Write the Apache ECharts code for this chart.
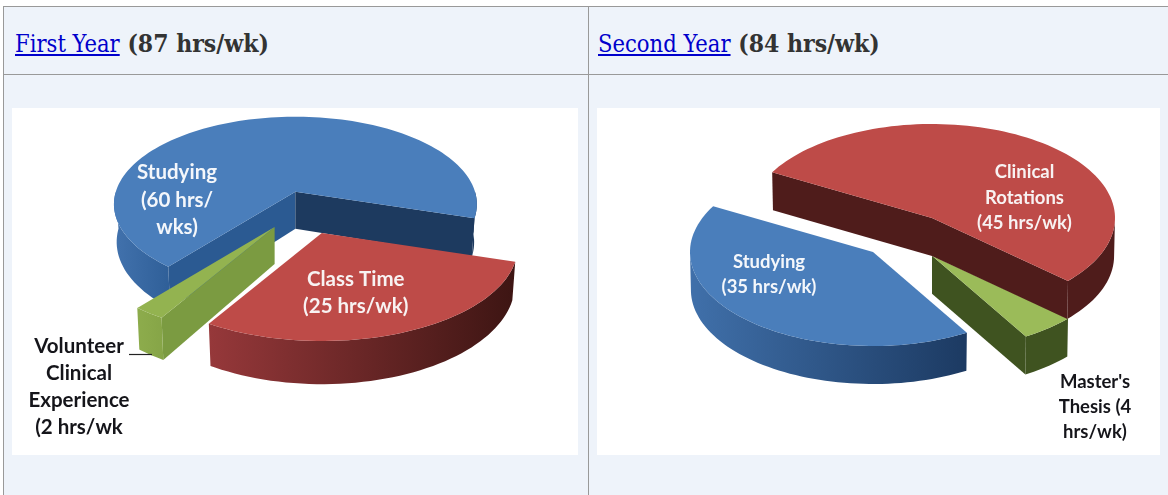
<!DOCTYPE html>
<html>
<head>
<meta charset="utf-8">
<style>
  html, body { margin: 0; padding: 0; background: #fff; }
  body { position: relative; width: 1168px; height: 495px; overflow: hidden; }
  .cell { position: absolute; background: #eef3fa; border-left: 1px solid #999; border-top: 1px solid #999; box-sizing: border-box; }
  .head { font: bold 24.5px "DejaVu Serif", serif; font-stretch: condensed; color: #333; padding: 23px 0 0 11px; line-height: 28px; white-space: nowrap; }
  .head a { color: #0000cc; font-size: 23.5px; font-weight: normal; text-decoration: underline; }
  .chart { position: absolute; top: 108px; height: 347px; background: #fff; }
</style>
</head>
<body>
<div class="cell head" style="left:3px;top:6px;width:585px;height:69px"><a href="#">First Year</a> (87 hrs/wk)</div>
<div class="cell head" style="left:588px;top:6px;width:580px;height:69px;padding-left:9px"><a href="#">Second Year</a> (84 hrs/wk)</div>
<div class="cell" style="left:3px;top:74px;width:585px;height:421px"></div>
<div class="cell" style="left:588px;top:74px;width:580px;height:421px"></div>
<div id="first-year" class="chart" style="left:12px;width:566px"></div>
<div id="second-year" class="chart" style="left:597px;width:563px"></div>

<script src="https://cdn.jsdelivr.net/npm/echarts@6/dist/echarts.min.js"></script>
<script>
// hours per week, in the order the slices go round the pie
const firstYearNames = ['Studying', 'Class Time', 'Volunteer Clinical Experience'];
const firstYearHours = [60, 25, 2];
const secondYearNames = ["Master's Thesis", 'Studying', 'Clinical Rotations'];
const secondYearHours = [4, 35, 45];

const firstYearLabels = ['Studying\n(60 hrs/\nwks)', 'Class Time\n(25 hrs/wk)', 'Volunteer\nClinical\nExperience\n(2 hrs/wk'];
const secondYearLabels = ['Master\'s\nThesis (4\nhrs/wk)', 'Studying\n(35 hrs/wk)', 'Clinical\nRotations\n(45 hrs/wk)'];

const labelFont = 'Lato, "Open Sans", sans-serif';

// how each fake 3d pie sits in its box
const firstPie = {
  startAngle: 129, a: 179.6, b: 85.7, k: 0.143, depth: 37, shrink: 0.985,
  slices: [
    { x: 283.4, y: 83.7, scale: 1, top: '#4a7ebb', startWall: '#2b5a92', endWall: '#1d3a5f', outer: ['#4272ad', '#2f5f98'] },
    { x: 309.8, y: 125, scale: 1.08, top: '#be4b48', startWall: '#6e2826', endWall: '#6e2826', outer: ['#96383a', '#3d1513'] },
    { x: 262.6, y: 119, scale: 1.08, top: '#93b350', startWall: '#7b9b41', endWall: '#7b9b41', outer: ['#8dac4c', '#86a547'] }
  ],
  labels: [
    { x: 165, y: 92, size: 20.5, lineHeight: 27.5, color: '#f4f7fb' },
    { x: 343.7, y: 185, size: 20.5, lineHeight: 27.5, color: '#f8f2f2' },
    { x: 67, y: 279, size: 20.5, lineHeight: 27, color: '#15151a' }
  ]
};
const secondPie = {
  startAngle: 42, a: 183, b: 94, k: 0, depth: 38, shrink: 0.995,
  slices: [
    { x: 335, y: 147.7, scale: 1, top: '#9bbb59', startWall: '#3f5320', endWall: '#3f5320', outer: ['#3f5320', '#3f5320'] },
    { x: 276, y: 144, scale: 1, top: '#4a7ebb', startWall: '#1c3a62', endWall: '#1c3a62', outer: ['#4070aa', '#1c3a62'] },
    { x: 335, y: 110, scale: 1, top: '#be4b48', startWall: '#4f1c1b', endWall: '#4f1c1b', outer: ['#4f1c1b', '#4f1c1b'] }
  ],
  labels: [
    { x: 498, y: 299, size: 18.5, lineHeight: 25, color: '#15151a' },
    { x: 172, y: 167, size: 18.5, lineHeight: 25, color: '#f4f7fb' },
    { x: 427.5, y: 90, size: 18.5, lineHeight: 25.5, color: '#f8f2f2' }
  ]
};

function drawPie(domId, names, hours, labels, pie, extra) {
  const chart = echarts.init(document.getElementById(domId));
  const total = hours.reduce((sum, h) => sum + h, 0);

  function project(deg, slice) {
    const th = deg * Math.PI / 180;
    const w = 1 - pie.k * Math.sin(th);
    return {
      x: pie.a * Math.cos(th) / w * slice.scale,
      y: pie.b * Math.sin(th) / w * slice.scale,
      w: w
    };
  }
  const topPoint = (deg, s) => { const p = project(deg, s); return [s.x + p.x, s.y + p.y]; };
  const lowPoint = (deg, s) => { const p = project(deg, s); return [s.x + p.x * pie.shrink, s.y + p.y + pie.depth / p.w]; };

  function arcAngles(from, to) {
    const out = [];
    for (let d = from; d < to; d += 2) out.push(d);
    out.push(to);
    return out;
  }

  function renderSlice(params, api) {
    const i = params.dataIndex;
    const s = pie.slices[i];
    let done = 0;
    for (let j = 0; j < i; j++) done += hours[j];
    const from = pie.startAngle + done / total * 360;
    const to = from + api.value(0) / total * 360;
    const apexTop = [s.x, s.y];
    const apexLow = [s.x, s.y + pie.depth];
    const children = [];

    const wall = (deg, fill) => children.push({
      type: 'polygon',
      shape: { points: [apexTop, topPoint(deg, s), lowPoint(deg, s), apexLow] },
      style: { fill: fill }
    });
    if (Math.cos(from * Math.PI / 180) < 0) wall(from, s.startWall);
    if (Math.cos(to * Math.PI / 180) > 0) wall(to, s.endWall);

    // rim only where it faces the viewer
    [[0, 180], [360, 540]].forEach(([lo, hi]) => {
      const a0 = Math.max(from, lo);
      const a1 = Math.min(to, hi);
      if (a1 <= a0) return;
      const angles = arcAngles(a0, a1);
      const points = angles.map(d => topPoint(d, s)).concat(angles.slice().reverse().map(d => lowPoint(d, s)));
      // a piece past the back of the pie is the dark end, no shading on it
      const fill = (lo === 360 && from < 360) ? s.endWall : new echarts.graphic.LinearGradient(0, 0, 1, 0, [
        { offset: 0, color: s.outer[0] },
        { offset: 1, color: s.outer[1] }
      ]);
      children.push({ type: 'polygon', shape: { points: points }, style: { fill: fill } });
    });

    children.push({
      type: 'polygon',
      shape: { points: [apexTop].concat(arcAngles(from, to).map(d => topPoint(d, s))) },
      style: { fill: s.top }
    });
    return { type: 'group', children: children };
  }

  chart.setOption({
    animation: false,
    backgroundColor: '#fff',
    graphic: labels.map((text, i) => ({
      type: 'text',
      z: 10,
      x: pie.labels[i].x,
      y: pie.labels[i].y,
      style: {
        text: text,
        fill: pie.labels[i].color,
        font: 'bold ' + pie.labels[i].size + 'px ' + labelFont,
        lineHeight: pie.labels[i].lineHeight,
        align: 'center',
        verticalAlign: 'middle'
      }
    })).concat(extra || []),
    series: [{
      type: 'custom',
      coordinateSystem: 'none',
      silent: true,
      renderItem: renderSlice,
      data: hours.map((h, i) => ({ name: names[i], value: [h] }))
    }]
  });
}

// the little leader line after "Volunteer"
const volunteerLine = {
  type: 'line',
  z: 10,
  shape: { x1: 117, y1: 246.5, x2: 140, y2: 246.5 },
  style: { stroke: '#222', lineWidth: 1.2 }
};

drawPie('first-year', firstYearNames, firstYearHours, firstYearLabels, firstPie, [volunteerLine]);
drawPie('second-year', secondYearNames, secondYearHours, secondYearLabels, secondPie);
</script>
</body>
</html>
